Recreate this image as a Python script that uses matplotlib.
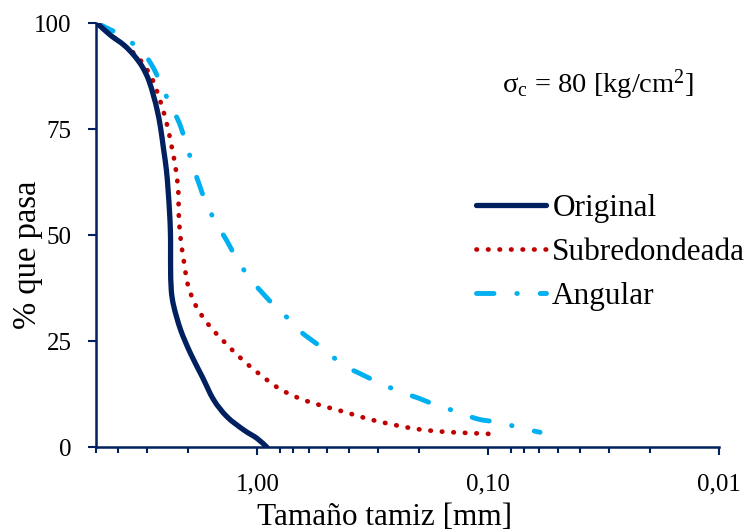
import matplotlib
matplotlib.use("Agg")
import numpy as np
import matplotlib.pyplot as plt
from matplotlib.ticker import FixedLocator, NullFormatter
from matplotlib.lines import Line2D
from matplotlib.path import Path
from matplotlib.patches import PathPatch

plt.rcParams['font.family'] = ['Liberation Serif', 'DejaVu Serif']
plt.rcParams['mathtext.fontset'] = 'custom'
plt.rcParams['mathtext.rm'] = 'Liberation Serif'
plt.rcParams['mathtext.it'] = 'Liberation Serif:italic'

# ---- data (sieve size [mm], % passing) ----
orig_size = [4.94, 4.33, 3.79, 3.43, 3.155, 2.955, 2.81, 2.718, 2.63, 2.545, 2.477, 2.436,
             2.404, 2.381, 2.376, 2.376, 2.36, 2.30, 2.15, 1.95, 1.735, 1.546, 1.353,
             1.146, 1.003, 0.908]
orig_pass = [100.0, 97.2, 94.9, 92.5, 89.8, 86.6, 82.7, 79.6, 75.6, 70.1, 65.4, 60.7,
             56.0, 51.25, 46.9, 42.6, 37.1, 33.2, 27.7, 22.2, 16.7, 11.2, 7.2,
             4.1, 2.1, 0.0]

sub_size = [4.94, 4.78, 3.92, 3.29, 2.88, 2.65, 2.48, 2.36, 2.26, 2.20, 2.19, 2.15, 2.08,
            2.00, 1.84, 1.61, 1.37, 1.158, 0.970, 0.801, 0.647, 0.519, 0.413, 0.330,
            0.262, 0.2085, 0.165, 0.1305, 0.103, 0.0917]
sub_pass = [100.0, 99.2, 95.5, 92.0, 87.3, 82.1, 76.8, 71.4, 65.9, 60.4, 54.9, 49.3, 43.8,
            38.3, 33.2, 28.6, 24.5, 20.6, 17.1, 13.8, 11.4, 9.74, 8.25, 6.67,
            5.42, 4.39, 3.77, 3.44, 3.21, 3.07]

ang_size = [4.93, 3.85, 3.21, 2.885, 2.60, 2.38, 2.19, 2.035, 1.905, 1.796, 1.663, 1.494,
            1.362, 1.224, 1.080, 0.954, 0.822, 0.696, 0.651, 0.508, 0.426, 0.361, 0.296,
            0.240, 0.2004, 0.164, 0.133, 0.111, 0.0887, 0.0715, 0.0596]
ang_pass = [100.0, 97.0, 93.7, 90.4, 85.5, 80.5, 76.8, 71.7, 66.4, 62.4, 57.5, 52.4,
            48.9, 44.3, 39.9, 36.5, 32.8, 29.2, 27.3, 22.9, 19.4, 17.45, 15.2,
            13.1, 11.6, 9.74, 8.25, 6.67, 5.80, 4.48, 3.54]

series_names = ['Original', 'Subredondeada', 'Angular']
x_major = [1.0, 0.1, 0.01]
x_major_labels = ['1,00', '0,10', '0,01']
y_ticks = [0, 25, 50, 75, 100]

navy = '#002060'
red = '#C00000'
blue = '#00B0F0'


def smooth_path(xs, ys):
    """Smoothed (Excel-like) line through the data points, built as Bezier
    segments in log10(x) space (Catmull-Rom)."""
    u = np.log10(np.asarray(xs, float))
    v = np.asarray(ys, float)
    P = np.column_stack([u, v])
    n = len(P)
    verts = [P[0]]
    codes = [Path.MOVETO]
    for i in range(n - 1):
        p0 = P[i - 1] if i > 0 else P[i]
        p1 = P[i]
        p2 = P[i + 1]
        p3 = P[i + 2] if i + 2 < n else P[i + 1]
        c1 = p1 + (p2 - p0) / 6.0
        c2 = p2 - (p3 - p1) / 6.0
        verts += [c1, c2, p2]
        codes += [Path.CURVE4] * 3
    verts = np.array(verts)
    verts[:, 0] = 10 ** verts[:, 0]
    return Path(verts, codes)


W, H = 752, 531
fig = plt.figure(figsize=(W / 100, H / 100), dpi=100)
ax = fig.add_axes([96 / W, 1 - 447.3 / H, (719 - 96) / W, (447.3 - 23.3) / H])

ax.set_xscale('log')
ax.set_xlim(5, 0.01)
ax.set_ylim(0, 100)

styles = [
    dict(color=navy, lw=3.8, ls='-'),
    dict(color=red, lw=3.4, ls=(0, (0.1, 2.34))),
    dict(color=blue, lw=3.5, ls=(0, (3.6, 4.7, 0.1, 4.7))),
]
data = [(orig_size, orig_pass), (sub_size, sub_pass), (ang_size, ang_pass)]
handles = []
for (xs, ys), st, name, z in zip(data, styles, series_names, [3, 2, 2]):
    patch = PathPatch(smooth_path(xs, ys), fill=False, edgecolor=st['color'],
                      lw=st['lw'], linestyle=st['ls'], capstyle='round',
                      joinstyle='round', zorder=z)
    ax.add_patch(patch)
    handles.append(Line2D([], [], color=st['color'], lw=st['lw'], linestyle=st['ls'],
                          dash_capstyle='round', solid_capstyle='round', label=name))

ax.xaxis.set_major_locator(FixedLocator(x_major))
ax.set_xticklabels(x_major_labels)
minor = []
for dec in [1.0, 0.1, 0.01]:
    for s in [2, 3, 4, 5, 6, 7, 8]:
        val = dec * s
        if 0.01 < val <= 5:
            minor.append(val)
ax.xaxis.set_minor_locator(FixedLocator(minor))
ax.xaxis.set_minor_formatter(NullFormatter())
ax.set_yticks(y_ticks)

for side in ['top', 'right']:
    ax.spines[side].set_visible(False)
for side in ['left', 'bottom']:
    ax.spines[side].set_color(navy)
    ax.spines[side].set_linewidth(1.8)

ax.tick_params(axis='x', which='major', direction='out', length=6, width=1.5,
               color=navy, labelsize=18, pad=13)
ax.tick_params(axis='x', which='minor', direction='out', length=4, width=1.5, color=navy)
ax.tick_params(axis='y', which='major', direction='out', length=6, width=1.5,
               color=navy, labelsize=18, pad=11.5)

fig.text(385 / W, 1 - 525 / H, 'Tamaño tamiz [mm]', fontsize=22.5,
         ha='center', va='baseline')
fig.text(28 / W, 1 - 254.5 / H, '% que pasa', fontsize=23.5, rotation=90,
         ha='center', va='center')
fig.text(502 / W, 1 - 93 / H, r'σ$_\mathrm{c}$ = 80 [kg/cm$^\mathrm{2}$]', fontsize=20.5,
         ha='left', va='baseline')

ax.legend(handles=handles, loc='upper left',
          bbox_to_anchor=(476 / W, 1 - 194 / H), bbox_transform=fig.transFigure,
          frameon=False, fontsize=22.5, handlelength=2.24, handletextpad=0.2,
          labelspacing=0.48, borderpad=0, borderaxespad=0)

fig.savefig('out.png', dpi=100)
